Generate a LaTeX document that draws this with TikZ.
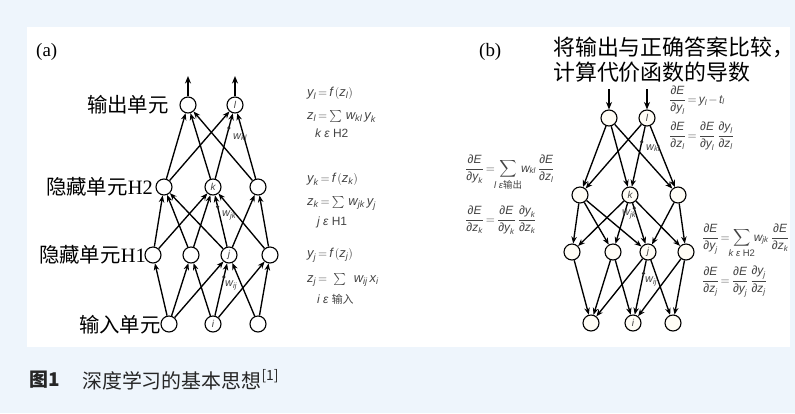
\documentclass[tikz,border=0pt]{standalone}
\usepackage{fontspec}
\usepackage{amsmath}
\setmainfont{Liberation Serif}
\newfontfamily\cjk{Noto Sans CJK SC}
\newfontfamily\eqf{Liberation Sans}
\usetikzlibrary{arrows.meta,calc}
\definecolor{bgblue}{RGB}{238,245,252}
\definecolor{eqgray}{RGB}{68,68,68}
\definecolor{cream}{RGB}{255,253,246}
\newcommand\pd{\text{∂}}
\newcommand\vv[1]{\text{\itshape #1}}
\thickmuskip=3mu
\medmuskip=2mu
\begin{document}
\begin{tikzpicture}[x=1bp,y=-1bp,
  unit/.style={circle,draw,line width=1.1bp,minimum size=16bp,inner sep=0pt,fill=white,text=eqgray,font=\eqf\itshape\fontsize{10}{10}\selectfont},
  unitb/.style={unit,fill=cream},
  link/.style={line width=1.35bp,-{Stealth[length=7bp,width=5.5bp]}},
  biglink/.style={line width=2bp,-{Stealth[length=7.5bp,width=6bp]}},
  lab/.style={font=\fontsize{20.5}{24}\selectfont,anchor=east,inner sep=0pt},
  eq/.style={font=\eqf\fontsize{13}{15}\selectfont,text=eqgray,anchor=base west,inner sep=0pt},
  eqb/.style={eq,font=\eqf\fontsize{12}{14}\selectfont},
  under/.style={font=\eqf\itshape\fontsize{12}{13}\selectfont,text=eqgray,anchor=base west,inner sep=0pt},
  wdot/.style={circle,fill=black!85,inner sep=0pt,minimum size=3.5bp},
  wlab/.style={font=\eqf\fontsize{11}{12}\selectfont,text=eqgray,inner sep=0pt,anchor=west}
]
\useasboundingbox (0,0) rectangle (795,413);
\fill[bgblue] (0,0) rectangle (795,413);
\fill[white] (27,27) rectangle (790,347);

% ---------------- (a) ----------------
\node[anchor=west,font=\fontsize{19}{22}\selectfont,inner sep=0pt] (ta) at (36,52) {(a)};
\node[unit] (o1) at (188,105) {};
\node[unit] (o2) at (235,105) {l};
\node[unit] (g1) at (164,187) {};
\node[unit] (g2) at (213,187) {k};
\node[unit] (g3) at (258,187) {};
\node[unit] (h1) at (153,255) {};
\node[unit] (h2) at (191,255) {};
\node[unit] (h3) at (229,255) {j};
\node[unit] (h4) at (270,255) {};
\node[unit] (i1) at (169,324) {};
\node[unit] (i2) at (213,324) {i};
\node[unit] (i3) at (258,324) {};
\coordinate (o1t) at (188,76);
\coordinate (o2t) at (235,76);
\draw[biglink] (o1) -- (o1t);
\draw[biglink] (o2) -- (o2t);
\foreach \a/\b in {i1/h1,i1/h2,i1/h3,i2/h2,i2/h3,i2/h4,i3/h3,i3/h4,h1/g1,h1/g2,h2/g1,h2/g2,h3/g1,h3/g2,h3/g3,h4/g2,h4/g3,g1/o1,g1/o2,g2/o1,g2/o2,g3/o1,g3/o2}
  \draw[link] (\a) -- (\b);
\node[wdot] (dkl) at ($(g2)!0.72!(o2)$) {};
\node[wlab] (wkl) at (233,137) {$\vv{w}_{\vv{kl}}$};
\node[wdot] (djk) at ($(h3)!0.71!(g2)$) {};
\node[wlab] (wjk) at (222,215) {$\vv{w}_{\vv{jk}}$};
\node[wdot] (dij) at ($(i2)!0.68!(h3)$) {};
\node[wlab] (wij) at (225,285) {$\vv{w}_{\vv{ij}}$};

\node[lab] (l1) at (169,105) {{\cjk 输出单元}};
\node[lab] (l2) at (153,187) {{\cjk 隐藏单元}H2};
\node[lab] (l3) at (146,255) {{\cjk 隐藏单元}H1};
\node[lab] (l4) at (161,325) {{\cjk 输入单元}};

\node[eq] (ea1) at (307,96) {$\vv{y}_{\vv{l}} = \vv{f}\,(\vv{z}_{\vv{l}})$};
\node[eq] (ea2) at (307,119) {$\vv{z}_{\vv{l}} = \sum\; \vv{w}_{\vv{kl}}\,\vv{y}_{\vv{k}}$};
\node[under] (ua2) at (315,137) {k ε \upshape H2};
\node[eq] (ea3) at (307,182) {$\vv{y}_{\vv{k}} = \vv{f}\,(\vv{z}_{\vv{k}})$};
\node[eq] (ea4) at (307,205) {$\vv{z}_{\vv{k}} = \sum\; \vv{w}_{\vv{jk}}\,\vv{y}_{\vv{j}}$};
\node[under] (ua4) at (317,225) {j ε \upshape H1};
\node[eq] (ea5) at (307,257) {$\vv{y}_{\vv{j}} = \vv{f}\,(\vv{z}_{\vv{j}})$};
\node[eq] (ea6) at (307,282) {$\vv{z}_{\vv{j}} =\;\; \sum\;\;\; \vv{w}_{\vv{ij}}\;\vv{x}_{\vv{i}}$};
\node[under] (ua6) at (317,303) {i ε \upshape{\cjk\fontsize{11}{12}\selectfont 输入}};

% ---------------- (b) ----------------
\node[anchor=west,font=\fontsize{19}{22}\selectfont,inner sep=0pt] (tb) at (479,52) {(b)};
\node[anchor=west,font=\cjk\fontsize{22}{26}\selectfont,inner sep=0pt] (tt1) at (553,47) {将输出与正确答案比较，};
\node[anchor=west,font=\cjk\fontsize{22}{26}\selectfont,inner sep=0pt] (tt2) at (553,72) {计算代价函数的导数};

\node[unitb] (bo1) at (609,118) {};
\node[unitb] (bo2) at (647,118) {l};
\node[unitb] (bg1) at (580,195) {};
\node[unitb] (bg2) at (630,195) {k};
\node[unitb] (bg3) at (678,195) {};
\node[unitb] (bh1) at (572,252) {};
\node[unitb] (bh2) at (613,252) {};
\node[unitb] (bh3) at (648,252) {j};
\node[unitb] (bh4) at (686,252) {};
\node[unitb] (bi1) at (591,323) {};
\node[unitb] (bi2) at (633,323) {i};
\node[unitb] (bi3) at (673,323) {};
\coordinate (bo1t) at (609,89);
\coordinate (bo2t) at (647,89);
\draw[biglink] (bo1t) -- (bo1);
\draw[biglink] (bo2t) -- (bo2);
\foreach \a/\b in {i1/h1,i1/h2,i1/h3,i2/h2,i2/h3,i2/h4,i3/h3,i3/h4,h1/g1,h1/g2,h2/g1,h2/g2,h3/g1,h3/g2,h3/g3,h4/g2,h4/g3,g1/o1,g1/o2,g2/o1,g2/o2,g3/o1,g3/o2}
  \draw[link] (b\b) -- (b\a);
\node[wdot] (bdkl) at ($(bo2)!0.31!(bg2)$) {};
\node[wlab] (bwkl) at (646,148) {$\vv{w}_{\vv{kl}}$};
\node[wdot] (bdjk) at ($(bg2)!0.23!(bh3)$) {};
\node[wlab] (bwjk) at (622,214) {$\vv{w}_{\vv{jk}}$};
\node[wdot] (bdij) at ($(bh3)!0.30!(bi2)$) {};
\node[wlab] (bwij) at (645,281) {$\vv{w}_{\vv{ij}}$};

\node[eqb] (eb1) at (669,103) {$\dfrac{\pd\vv{E}}{\pd\vv{y}_{\vv{l}}} = \vv{y}_{\vv{l}} - \vv{t}_{\vv{l}}$};
\node[eqb] (eb2) at (669,139) {$\dfrac{\pd\vv{E}}{\pd\vv{z}_{\vv{l}}} = \dfrac{\pd\vv{E}}{\pd\vv{y}_{\vv{l}}}\,\dfrac{\pd\vv{y}_{\vv{l}}}{\pd\vv{z}_{\vv{l}}}$};
\node[eqb] (eb3) at (465,172) {$\dfrac{\pd\vv{E}}{\pd\vv{y}_{\vv{k}}} = \displaystyle\sum_{\makebox[22bp]{\fontsize{9.5}{10}\selectfont\itshape l ε\upshape\cjk 输出}} \vv{w}_{\vv{kl}}\,\dfrac{\pd\vv{E}}{\pd\vv{z}_{\vv{l}}}$};
\node[eqb] (eb4) at (465,223) {$\dfrac{\pd\vv{E}}{\pd\vv{z}_{\vv{k}}} = \dfrac{\pd\vv{E}}{\pd\vv{y}_{\vv{k}}}\,\dfrac{\pd\vv{y}_{\vv{k}}}{\pd\vv{z}_{\vv{k}}}$};
\node[eqb] (eb5) at (702,241) {$\dfrac{\pd\vv{E}}{\pd\vv{y}_{\vv{j}}} = \displaystyle\sum_{\makebox[20bp]{\fontsize{9.5}{10}\selectfont\itshape k ε \upshape H2}} \vv{w}_{\vv{jk}}\,\dfrac{\pd\vv{E}}{\pd\vv{z}_{\vv{k}}}$};
\node[eqb] (eb6) at (702,284) {$\dfrac{\pd\vv{E}}{\pd\vv{z}_{\vv{j}}} = \dfrac{\pd\vv{E}}{\pd\vv{y}_{\vv{j}}}\,\dfrac{\pd\vv{y}_{\vv{j}}}{\pd\vv{z}_{\vv{j}}}$};

% ---------------- caption ----------------
\node[anchor=west,font=\cjk\bfseries\fontsize{19}{22}\selectfont,text=black!85,inner sep=0pt] (cap1) at (29,380) {图1};
\node[anchor=west,font=\cjk\fontsize{20}{22}\selectfont,text=black!85,inner sep=0pt] (cap2) at (82,380) {深度学习的基本思想\textsuperscript{[1]}};
\end{tikzpicture}
\end{document}
